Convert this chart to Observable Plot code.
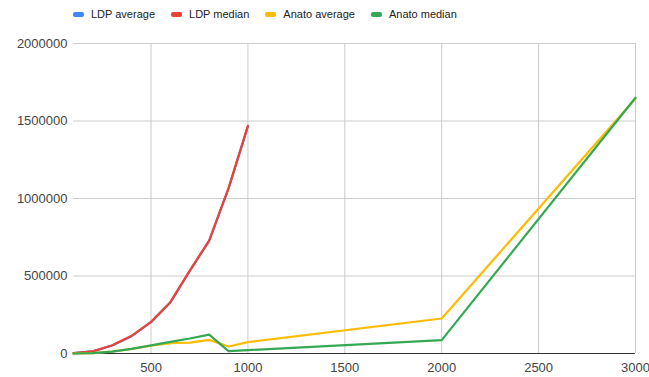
<!DOCTYPE html>
<html>
<head>
<meta charset="utf-8">
<script src="https://cdn.jsdelivr.net/npm/d3@7"></script>
<script src="https://cdn.jsdelivr.net/npm/@observablehq/plot@0.6"></script>
<style>
  html, body { margin: 0; padding: 0; background: #fff; }
  body { width: 649px; font-family: "Liberation Sans", Arial, sans-serif; }
  #legend { height: 28px; display: flex; justify-content: flex-start; align-items: center; font-family: "Liberation Sans", Arial, sans-serif; font-size: 11px; color: #222; padding-left: 73px; box-sizing: border-box; }
  .item { display: flex; align-items: center; margin-right: 16px; }
  .sw { width: 11px; height: 5px; border-radius: 2px; margin-right: 7px; }
</style>
</head>
<body>
<div id="legend"></div>
<div id="chart"></div>
<script>
const seriesNames = ["LDP average", "LDP median", "Anato average", "Anato median"];
const seriesColors = ["#4285F4", "#EA4335", "#FBBC04", "#34A853"];

const ldpX = [100, 200, 300, 400, 500, 600, 700, 800, 900, 1000];
const ldpAverage = [2000, 14000, 52000, 112000, 202000, 330000, 532000, 726000, 1064000, 1465000];
const ldpMedian  = [2000, 14000, 53000, 114000, 204000, 331000, 535000, 728000, 1067000, 1469000];

const anatoX = [100, 200, 300, 400, 500, 600, 700, 800, 900, 1000, 2000, 3000];
const anatoAverage = [0, 3000, 13000, 30000, 50000, 66000, 70000, 88000, 45000, 73000, 226000, 1645000];
const anatoMedian  = [0, 2000, 12000, 30000, 52000, 75000, 97000, 122000, 15000, 22000, 86000, 1650000];

const xTicks = [500, 1000, 1500, 2000, 2500, 3000];
const yTicks = [0, 500000, 1000000, 1500000, 2000000];

const rows = [];
ldpX.forEach((x, i) => rows.push({series: seriesNames[0], x, y: ldpAverage[i]}));
ldpX.forEach((x, i) => rows.push({series: seriesNames[1], x, y: ldpMedian[i]}));
anatoX.forEach((x, i) => rows.push({series: seriesNames[2], x, y: anatoAverage[i]}));
anatoX.forEach((x, i) => rows.push({series: seriesNames[3], x, y: anatoMedian[i]}));

const legend = document.getElementById("legend");
seriesNames.forEach((n, i) => {
  const it = document.createElement("div");
  it.className = "item";
  it.innerHTML = `<span class="sw" style="background:${seriesColors[i]}"></span><span>${n}</span>`;
  legend.appendChild(it);
});

const chart = Plot.plot({
  width: 649,
  height: 349,
  marginTop: 15,
  marginBottom: 24,
  marginLeft: 73,
  marginRight: 14,
  style: {fontFamily: "'Liberation Sans', Arial, sans-serif", fontSize: "13px", color: "#444", background: "#fff"},
  x: {domain: [100, 3000]},
  y: {domain: [0, 2000000]},
  color: {domain: seriesNames, range: seriesColors},
  marks: [
    Plot.gridX(xTicks, {stroke: "#cccccc", strokeOpacity: 1, strokeWidth: 1}),
    Plot.gridY(yTicks, {stroke: "#cccccc", strokeOpacity: 1, strokeWidth: 1}),
    Plot.ruleY([0], {stroke: "#333", strokeWidth: 1.2}),
    Plot.axisX({ticks: xTicks, tickSize: 0, tickPadding: 9, tickFormat: d => String(d), label: null, fill: "#444"}),
    Plot.axisY({ticks: yTicks, tickSize: 0, tickPadding: 6, tickFormat: d => String(d), label: null, fill: "#444"}),
    Plot.line(rows, {x: "x", y: "y", z: "series", stroke: "series", strokeWidth: 2.2, strokeLinejoin: "round", strokeLinecap: "round"})
  ]
});
document.getElementById("chart").appendChild(chart);
</script>
</body>
</html>
